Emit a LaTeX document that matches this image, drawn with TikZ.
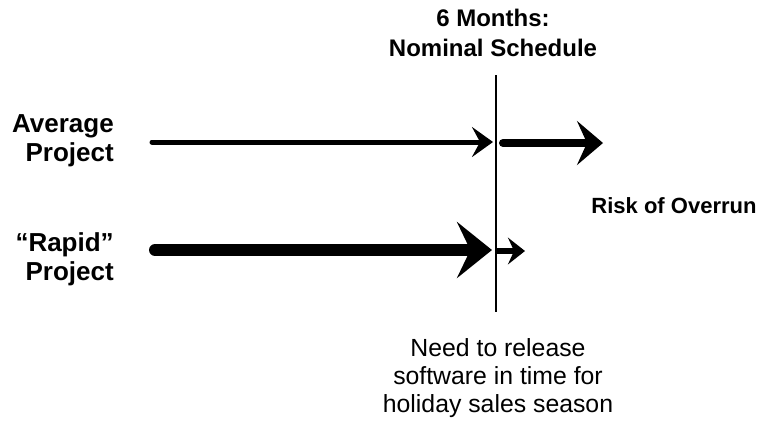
\documentclass[tikz,border=0pt]{standalone}
\usepackage{fontspec}
\setmainfont{Liberation Sans}
\usetikzlibrary{arrows.meta}

\tikzset{
  label/.style={inner sep=0pt, font=\bfseries\fontsize{19.5}{21.75}\selectfont},
  note/.style={inner sep=0pt, align=center, font=\fontsize{18.6}{21}\selectfont},
  milestone/.style={line width=0.8pt},
  thinarrow/.style={line width=3.75pt, line cap=round,
    -{Stealth[length=15.75pt, width=22.5pt, inset=6pt]}},
  riskarrow/.style={line width=6pt, line cap=round,
    -{Stealth[length=19.5pt, width=33pt, inset=7.5pt]}},
  fatarrow/.style={line width=9pt, line cap=round,
    -{Stealth[length=26.25pt, width=42pt, inset=10pt]}},
  stubarrow/.style={line width=4.5pt,
    -{Stealth[length=12.75pt, width=20pt, inset=4.5pt]}}
}

\begin{document}
\begin{tikzpicture}[x=0.75pt, y=-0.75pt]
  \useasboundingbox (0,0) rectangle (762,422);

  % nominal schedule marker
  \node[label, align=center, font=\bfseries\fontsize{18}{22.5}\selectfont]
    (sched) at (493,33) {6 Months:\\Nominal Schedule};
  \coordinate (mtop) at (496,75);
  \coordinate (mbot) at (496,312);
  \draw[milestone] (mtop) -- (mbot);

  % row labels
  \node[label, align=right, anchor=east] (avg) at (114,141) {Average\\Project};
  \node[label, align=right, anchor=east] (rapid) at (114,259) {“Rapid”\\Project};

  % average project
  \coordinate (avgS) at (152,142);
  \coordinate (avgE) at (493,142);
  \draw[thinarrow] (avgS) -- (avgE);
  \coordinate (riskS) at (503,143);
  \coordinate (riskE) at (603,143);
  \draw[riskarrow] (riskS) -- (riskE);
  \node[label, font=\bfseries\fontsize{16.5}{20}\selectfont] (risk) at (674,205.5) {Risk of Overrun};

  % rapid project
  \coordinate (rapS) at (155,250);
  \coordinate (rapE) at (492,250);
  \draw[fatarrow] (rapS) -- (rapE);
  \coordinate (stubS) at (497,251);
  \coordinate (stubE) at (525,251);
  \draw[stubarrow] (stubS) -- (stubE);

  % deadline note
  \node[note] (need) at (498,378)
    {Need to release\\software in time for\\holiday sales season};
\end{tikzpicture}
\end{document}
